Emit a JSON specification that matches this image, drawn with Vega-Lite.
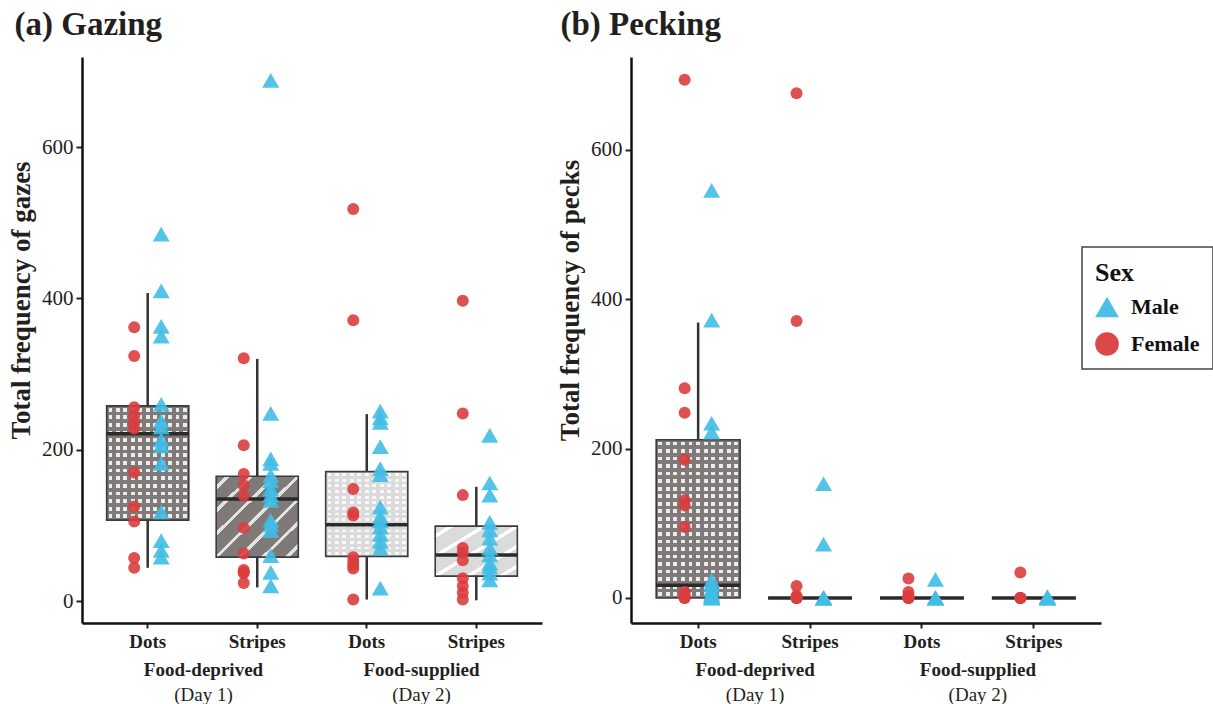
{
  "$schema": "https://vega.github.io/schema/vega-lite/v6.json",
  "padding": {"left": 7, "top": 9, "right": 0, "bottom": 0},
  "spacing": 14,
  "config": {
    "font": "Liberation Serif",
    "view": {"stroke": null},
    "axis": {"grid": false, "domainColor": "#111111", "domainWidth": 2.5, "tickColor": "#222222", "tickWidth": 2, "labelColor": "#231f20", "titleColor": "#231f20", "labelFont": "Liberation Serif", "titleFont": "Liberation Serif"},
    "axisY": {"labelFontSize": 21, "tickSize": 6, "labelPadding": 3, "titleFontSize": 27, "titleFontWeight": "bold", "titlePadding": 6, "tickCount": 4, "titleY": 243},
    "axisX": {"labelAngle": 0},
    "legend": {"padding": 13, "strokeColor": "#444444", "strokeWidth": 1.5, "titleFontSize": 26, "titleFontWeight": "bold", "labelFontSize": 22, "labelFontWeight": "bold", "symbolSize": 560, "rowPadding": 14, "titlePadding": 9, "labelOffset": 12, "titleColor": "#111111", "labelColor": "#111111", "symbolStrokeWidth": 0, "symbolOpacity": 0.95}
  },
  "datasets": {
    "boxes": [
      {"panel": "a", "grp": "FD Dots", "cond": "Food-deprived", "day": "(Day 1)", "lo": 44, "q1": 107, "med": 221, "q3": 258, "hi": 407},
      {"panel": "a", "grp": "FD Stripes", "cond": "Food-deprived", "day": "(Day 1)", "lo": 18, "q1": 58, "med": 135, "q3": 165, "hi": 320},
      {"panel": "a", "grp": "FS Dots", "cond": "Food-supplied", "day": "(Day 2)", "lo": 2, "q1": 59, "med": 101, "q3": 171, "hi": 247},
      {"panel": "a", "grp": "FS Stripes", "cond": "Food-supplied", "day": "(Day 2)", "lo": 1, "q1": 33, "med": 61, "q3": 99, "hi": 151},
      {"panel": "b", "grp": "FD Dots", "cond": "Food-deprived", "day": "(Day 1)", "lo": 0, "q1": 0, "med": 17, "q3": 212, "hi": 369},
      {"panel": "b", "grp": "FD Stripes", "cond": "Food-deprived", "day": "(Day 1)", "lo": 0, "q1": 0, "med": 0, "q3": 0, "hi": 0},
      {"panel": "b", "grp": "FS Dots", "cond": "Food-supplied", "day": "(Day 2)", "lo": 0, "q1": 0, "med": 0, "q3": 0, "hi": 0},
      {"panel": "b", "grp": "FS Stripes", "cond": "Food-supplied", "day": "(Day 2)", "lo": 0, "q1": 0, "med": 0, "q3": 0, "hi": 0}
    ],
    "pts": [
      {"panel":"a","grp":"FD Dots","sex":"Female","value":362},{"panel":"a","grp":"FD Dots","sex":"Female","value":324},{"panel":"a","grp":"FD Dots","sex":"Female","value":256},{"panel":"a","grp":"FD Dots","sex":"Female","value":245},{"panel":"a","grp":"FD Dots","sex":"Female","value":236},{"panel":"a","grp":"FD Dots","sex":"Female","value":228},{"panel":"a","grp":"FD Dots","sex":"Female","value":170},{"panel":"a","grp":"FD Dots","sex":"Female","value":125},{"panel":"a","grp":"FD Dots","sex":"Female","value":105},{"panel":"a","grp":"FD Dots","sex":"Female","value":57},{"panel":"a","grp":"FD Dots","sex":"Female","value":44},
      {"panel":"a","grp":"FD Dots","sex":"Male","value":485},{"panel":"a","grp":"FD Dots","sex":"Male","value":410},{"panel":"a","grp":"FD Dots","sex":"Male","value":363},{"panel":"a","grp":"FD Dots","sex":"Male","value":350},{"panel":"a","grp":"FD Dots","sex":"Male","value":260},{"panel":"a","grp":"FD Dots","sex":"Male","value":238},{"panel":"a","grp":"FD Dots","sex":"Male","value":230},{"panel":"a","grp":"FD Dots","sex":"Male","value":213},{"panel":"a","grp":"FD Dots","sex":"Male","value":205},{"panel":"a","grp":"FD Dots","sex":"Male","value":182},{"panel":"a","grp":"FD Dots","sex":"Male","value":118},{"panel":"a","grp":"FD Dots","sex":"Male","value":80},{"panel":"a","grp":"FD Dots","sex":"Male","value":67},{"panel":"a","grp":"FD Dots","sex":"Male","value":58},
      {"panel":"a","grp":"FD Stripes","sex":"Female","value":321},{"panel":"a","grp":"FD Stripes","sex":"Female","value":206},{"panel":"a","grp":"FD Stripes","sex":"Female","value":168},{"panel":"a","grp":"FD Stripes","sex":"Female","value":153},{"panel":"a","grp":"FD Stripes","sex":"Female","value":139},{"panel":"a","grp":"FD Stripes","sex":"Female","value":97},{"panel":"a","grp":"FD Stripes","sex":"Female","value":63},{"panel":"a","grp":"FD Stripes","sex":"Female","value":41},{"panel":"a","grp":"FD Stripes","sex":"Female","value":38},{"panel":"a","grp":"FD Stripes","sex":"Female","value":37},{"panel":"a","grp":"FD Stripes","sex":"Female","value":24},
      {"panel":"a","grp":"FD Stripes","sex":"Male","value":688},{"panel":"a","grp":"FD Stripes","sex":"Male","value":248},{"panel":"a","grp":"FD Stripes","sex":"Male","value":188},{"panel":"a","grp":"FD Stripes","sex":"Male","value":182},{"panel":"a","grp":"FD Stripes","sex":"Male","value":166},{"panel":"a","grp":"FD Stripes","sex":"Male","value":159},{"panel":"a","grp":"FD Stripes","sex":"Male","value":148},{"panel":"a","grp":"FD Stripes","sex":"Male","value":140},{"panel":"a","grp":"FD Stripes","sex":"Male","value":133},{"panel":"a","grp":"FD Stripes","sex":"Male","value":107},{"panel":"a","grp":"FD Stripes","sex":"Male","value":101},{"panel":"a","grp":"FD Stripes","sex":"Male","value":93},{"panel":"a","grp":"FD Stripes","sex":"Male","value":60},{"panel":"a","grp":"FD Stripes","sex":"Male","value":38},{"panel":"a","grp":"FD Stripes","sex":"Male","value":20},
      {"panel":"a","grp":"FS Dots","sex":"Female","value":518},{"panel":"a","grp":"FS Dots","sex":"Female","value":371},{"panel":"a","grp":"FS Dots","sex":"Female","value":148},{"panel":"a","grp":"FS Dots","sex":"Female","value":117},{"panel":"a","grp":"FS Dots","sex":"Female","value":113},{"panel":"a","grp":"FS Dots","sex":"Female","value":58},{"panel":"a","grp":"FS Dots","sex":"Female","value":52},{"panel":"a","grp":"FS Dots","sex":"Female","value":47},{"panel":"a","grp":"FS Dots","sex":"Female","value":43},{"panel":"a","grp":"FS Dots","sex":"Female","value":2},
      {"panel":"a","grp":"FS Dots","sex":"Male","value":251},{"panel":"a","grp":"FS Dots","sex":"Male","value":242},{"panel":"a","grp":"FS Dots","sex":"Male","value":236},{"panel":"a","grp":"FS Dots","sex":"Male","value":204},{"panel":"a","grp":"FS Dots","sex":"Male","value":175},{"panel":"a","grp":"FS Dots","sex":"Male","value":167},{"panel":"a","grp":"FS Dots","sex":"Male","value":124},{"panel":"a","grp":"FS Dots","sex":"Male","value":112},{"panel":"a","grp":"FS Dots","sex":"Male","value":106},{"panel":"a","grp":"FS Dots","sex":"Male","value":98},{"panel":"a","grp":"FS Dots","sex":"Male","value":88},{"panel":"a","grp":"FS Dots","sex":"Male","value":79},{"panel":"a","grp":"FS Dots","sex":"Male","value":70},{"panel":"a","grp":"FS Dots","sex":"Male","value":17},
      {"panel":"a","grp":"FS Stripes","sex":"Female","value":397},{"panel":"a","grp":"FS Stripes","sex":"Female","value":248},{"panel":"a","grp":"FS Stripes","sex":"Female","value":140},{"panel":"a","grp":"FS Stripes","sex":"Female","value":70},{"panel":"a","grp":"FS Stripes","sex":"Female","value":64},{"panel":"a","grp":"FS Stripes","sex":"Female","value":54},{"panel":"a","grp":"FS Stripes","sex":"Female","value":30},{"panel":"a","grp":"FS Stripes","sex":"Female","value":20},{"panel":"a","grp":"FS Stripes","sex":"Female","value":11},{"panel":"a","grp":"FS Stripes","sex":"Female","value":2},
      {"panel":"a","grp":"FS Stripes","sex":"Male","value":219},{"panel":"a","grp":"FS Stripes","sex":"Male","value":156},{"panel":"a","grp":"FS Stripes","sex":"Male","value":140},{"panel":"a","grp":"FS Stripes","sex":"Male","value":104},{"panel":"a","grp":"FS Stripes","sex":"Male","value":94},{"panel":"a","grp":"FS Stripes","sex":"Male","value":83},{"panel":"a","grp":"FS Stripes","sex":"Male","value":70},{"panel":"a","grp":"FS Stripes","sex":"Male","value":61},{"panel":"a","grp":"FS Stripes","sex":"Male","value":50},{"panel":"a","grp":"FS Stripes","sex":"Male","value":45},{"panel":"a","grp":"FS Stripes","sex":"Male","value":37},{"panel":"a","grp":"FS Stripes","sex":"Male","value":28},
      {"panel":"b","grp":"FD Dots","sex":"Female","value":694},{"panel":"b","grp":"FD Dots","sex":"Female","value":281},{"panel":"b","grp":"FD Dots","sex":"Female","value":248},{"panel":"b","grp":"FD Dots","sex":"Female","value":185},{"panel":"b","grp":"FD Dots","sex":"Female","value":131},{"panel":"b","grp":"FD Dots","sex":"Female","value":124},{"panel":"b","grp":"FD Dots","sex":"Female","value":95},{"panel":"b","grp":"FD Dots","sex":"Female","value":8},{"panel":"b","grp":"FD Dots","sex":"Female","value":4},{"panel":"b","grp":"FD Dots","sex":"Female","value":0},{"panel":"b","grp":"FD Dots","sex":"Female","value":0},
      {"panel":"b","grp":"FD Dots","sex":"Male","value":546},{"panel":"b","grp":"FD Dots","sex":"Male","value":372},{"panel":"b","grp":"FD Dots","sex":"Male","value":234},{"panel":"b","grp":"FD Dots","sex":"Male","value":222},{"panel":"b","grp":"FD Dots","sex":"Male","value":24},{"panel":"b","grp":"FD Dots","sex":"Male","value":18},{"panel":"b","grp":"FD Dots","sex":"Male","value":12},{"panel":"b","grp":"FD Dots","sex":"Male","value":6},{"panel":"b","grp":"FD Dots","sex":"Male","value":3},{"panel":"b","grp":"FD Dots","sex":"Male","value":2},{"panel":"b","grp":"FD Dots","sex":"Male","value":0},{"panel":"b","grp":"FD Dots","sex":"Male","value":0},{"panel":"b","grp":"FD Dots","sex":"Male","value":0},
      {"panel":"b","grp":"FD Stripes","sex":"Female","value":676},{"panel":"b","grp":"FD Stripes","sex":"Female","value":371},{"panel":"b","grp":"FD Stripes","sex":"Female","value":16},{"panel":"b","grp":"FD Stripes","sex":"Female","value":3},{"panel":"b","grp":"FD Stripes","sex":"Female","value":0},{"panel":"b","grp":"FD Stripes","sex":"Female","value":0},{"panel":"b","grp":"FD Stripes","sex":"Female","value":0},{"panel":"b","grp":"FD Stripes","sex":"Female","value":0},
      {"panel":"b","grp":"FD Stripes","sex":"Male","value":153},{"panel":"b","grp":"FD Stripes","sex":"Male","value":72},{"panel":"b","grp":"FD Stripes","sex":"Male","value":0},{"panel":"b","grp":"FD Stripes","sex":"Male","value":0},{"panel":"b","grp":"FD Stripes","sex":"Male","value":0},{"panel":"b","grp":"FD Stripes","sex":"Male","value":0},{"panel":"b","grp":"FD Stripes","sex":"Male","value":0},{"panel":"b","grp":"FD Stripes","sex":"Male","value":0},
      {"panel":"b","grp":"FS Dots","sex":"Female","value":26},{"panel":"b","grp":"FS Dots","sex":"Female","value":8},{"panel":"b","grp":"FS Dots","sex":"Female","value":3},{"panel":"b","grp":"FS Dots","sex":"Female","value":0},{"panel":"b","grp":"FS Dots","sex":"Female","value":0},{"panel":"b","grp":"FS Dots","sex":"Female","value":0},
      {"panel":"b","grp":"FS Dots","sex":"Male","value":25},{"panel":"b","grp":"FS Dots","sex":"Male","value":0},{"panel":"b","grp":"FS Dots","sex":"Male","value":0},{"panel":"b","grp":"FS Dots","sex":"Male","value":0},{"panel":"b","grp":"FS Dots","sex":"Male","value":0},{"panel":"b","grp":"FS Dots","sex":"Male","value":0},
      {"panel":"b","grp":"FS Stripes","sex":"Female","value":34},{"panel":"b","grp":"FS Stripes","sex":"Female","value":0},{"panel":"b","grp":"FS Stripes","sex":"Female","value":0},{"panel":"b","grp":"FS Stripes","sex":"Female","value":0},{"panel":"b","grp":"FS Stripes","sex":"Female","value":0},
      {"panel":"b","grp":"FS Stripes","sex":"Male","value":2},{"panel":"b","grp":"FS Stripes","sex":"Male","value":0},{"panel":"b","grp":"FS Stripes","sex":"Male","value":0},{"panel":"b","grp":"FS Stripes","sex":"Male","value":0},{"panel":"b","grp":"FS Stripes","sex":"Male","value":0},{"panel":"b","grp":"FS Stripes","sex":"Male","value":0}
    ]
  },
  "hconcat": [
    {
      "title": {"text": "(a) Gazing", "anchor": "start", "frame": "bounds", "fontSize": 33, "fontWeight": "bold", "font": "Liberation Serif", "color": "#231f20", "offset": 15, "dx": 7},
      "width": 460,
      "height": 566,
      "resolve": {"scale": {"x": "independent"}},
      "layer": [
        {
          "encoding": {
            "x": {"field": "grp", "type": "nominal", "scale": {"type": "band", "domain": ["FD Dots", "FD Stripes", "FS Dots", "FS Stripes"], "paddingInner": 0.25, "paddingOuter": 0.225},
              "axis": {"orient": "bottom", "title": null, "labelExpr": "split(datum.label, ' ')[1]", "labelFontSize": 19, "labelFontWeight": "bold", "tickSize": 5, "labelPadding": 4}}
          },
          "layer": [
            {
              "data": {"name": "boxes"},
              "transform": [{"filter": "datum.panel == 'a'"}],
              "mark": {"type": "rule", "stroke": "#333333", "strokeWidth": 2.5},
              "encoding": {
                "y": {"field": "lo", "type": "quantitative", "title": "Total frequency of gazes", "scale": {"domain": [-29, 719], "nice": false, "zero": false}},
                "y2": {"field": "hi"}
              }
            },
            {
              "data": {"name": "boxes"},
              "transform": [{"filter": "datum.panel == 'a' && datum.grp == 'FD Dots'"}],
              "mark": {"type": "bar", "fill": {"gradient": "linear", "x1": 0, "y1": 0, "x2": 1, "y2": 0, "stops": [
                {"offset": 0, "color": "#7f7978"}, {"offset": 0.0227, "color": "#7f7978"}, {"offset": 0.0227, "color": "#ebebeb"}, {"offset": 0.0682, "color": "#ebebeb"}, {"offset": 0.0682, "color": "#7f7978"},
                {"offset": 0.1136, "color": "#7f7978"}, {"offset": 0.1136, "color": "#ebebeb"}, {"offset": 0.1591, "color": "#ebebeb"}, {"offset": 0.1591, "color": "#7f7978"},
                {"offset": 0.2045, "color": "#7f7978"}, {"offset": 0.2045, "color": "#ebebeb"}, {"offset": 0.25, "color": "#ebebeb"}, {"offset": 0.25, "color": "#7f7978"},
                {"offset": 0.2955, "color": "#7f7978"}, {"offset": 0.2955, "color": "#ebebeb"}, {"offset": 0.3409, "color": "#ebebeb"}, {"offset": 0.3409, "color": "#7f7978"},
                {"offset": 0.3864, "color": "#7f7978"}, {"offset": 0.3864, "color": "#ebebeb"}, {"offset": 0.4318, "color": "#ebebeb"}, {"offset": 0.4318, "color": "#7f7978"},
                {"offset": 0.4773, "color": "#7f7978"}, {"offset": 0.4773, "color": "#ebebeb"}, {"offset": 0.5227, "color": "#ebebeb"}, {"offset": 0.5227, "color": "#7f7978"},
                {"offset": 0.5682, "color": "#7f7978"}, {"offset": 0.5682, "color": "#ebebeb"}, {"offset": 0.6136, "color": "#ebebeb"}, {"offset": 0.6136, "color": "#7f7978"},
                {"offset": 0.6591, "color": "#7f7978"}, {"offset": 0.6591, "color": "#ebebeb"}, {"offset": 0.7045, "color": "#ebebeb"}, {"offset": 0.7045, "color": "#7f7978"},
                {"offset": 0.75, "color": "#7f7978"}, {"offset": 0.75, "color": "#ebebeb"}, {"offset": 0.7955, "color": "#ebebeb"}, {"offset": 0.7955, "color": "#7f7978"},
                {"offset": 0.8409, "color": "#7f7978"}, {"offset": 0.8409, "color": "#ebebeb"}, {"offset": 0.8864, "color": "#ebebeb"}, {"offset": 0.8864, "color": "#7f7978"},
                {"offset": 0.9318, "color": "#7f7978"}, {"offset": 0.9318, "color": "#ebebeb"}, {"offset": 0.9773, "color": "#ebebeb"}, {"offset": 0.9773, "color": "#7f7978"},
                {"offset": 1, "color": "#7f7978"}]}},
              "encoding": {
                "y": {"field": "q1", "type": "quantitative", "title": "Total frequency of gazes", "scale": {"domain": [-29, 719], "nice": false, "zero": false}},
                "y2": {"field": "q3"}
              }
            },
            {
              "data": {"name": "boxes"},
              "transform": [{"filter": "datum.panel == 'a' && datum.grp == 'FD Dots'"}],
              "mark": {"type": "bar", "fill": {"gradient": "linear", "x1": 0, "y1": 0, "x2": 0, "y2": 1, "stops": [
                {"offset": 0, "color": "#7f7978"}, {"offset": 0.0167, "color": "#7f7978"}, {"offset": 0.0167, "color": "rgba(127,121,120,0)"}, {"offset": 0.05, "color": "rgba(127,121,120,0)"}, {"offset": 0.05, "color": "#7f7978"},
                {"offset": 0.0833, "color": "#7f7978"}, {"offset": 0.0833, "color": "rgba(127,121,120,0)"}, {"offset": 0.1167, "color": "rgba(127,121,120,0)"}, {"offset": 0.1167, "color": "#7f7978"},
                {"offset": 0.15, "color": "#7f7978"}, {"offset": 0.15, "color": "rgba(127,121,120,0)"}, {"offset": 0.1833, "color": "rgba(127,121,120,0)"}, {"offset": 0.1833, "color": "#7f7978"},
                {"offset": 0.2167, "color": "#7f7978"}, {"offset": 0.2167, "color": "rgba(127,121,120,0)"}, {"offset": 0.25, "color": "rgba(127,121,120,0)"}, {"offset": 0.25, "color": "#7f7978"},
                {"offset": 0.2833, "color": "#7f7978"}, {"offset": 0.2833, "color": "rgba(127,121,120,0)"}, {"offset": 0.3167, "color": "rgba(127,121,120,0)"}, {"offset": 0.3167, "color": "#7f7978"},
                {"offset": 0.35, "color": "#7f7978"}, {"offset": 0.35, "color": "rgba(127,121,120,0)"}, {"offset": 0.3833, "color": "rgba(127,121,120,0)"}, {"offset": 0.3833, "color": "#7f7978"},
                {"offset": 0.4167, "color": "#7f7978"}, {"offset": 0.4167, "color": "rgba(127,121,120,0)"}, {"offset": 0.45, "color": "rgba(127,121,120,0)"}, {"offset": 0.45, "color": "#7f7978"},
                {"offset": 0.4833, "color": "#7f7978"}, {"offset": 0.4833, "color": "rgba(127,121,120,0)"}, {"offset": 0.5167, "color": "rgba(127,121,120,0)"}, {"offset": 0.5167, "color": "#7f7978"},
                {"offset": 0.55, "color": "#7f7978"}, {"offset": 0.55, "color": "rgba(127,121,120,0)"}, {"offset": 0.5833, "color": "rgba(127,121,120,0)"}, {"offset": 0.5833, "color": "#7f7978"},
                {"offset": 0.6167, "color": "#7f7978"}, {"offset": 0.6167, "color": "rgba(127,121,120,0)"}, {"offset": 0.65, "color": "rgba(127,121,120,0)"}, {"offset": 0.65, "color": "#7f7978"},
                {"offset": 0.6833, "color": "#7f7978"}, {"offset": 0.6833, "color": "rgba(127,121,120,0)"}, {"offset": 0.7167, "color": "rgba(127,121,120,0)"}, {"offset": 0.7167, "color": "#7f7978"},
                {"offset": 0.75, "color": "#7f7978"}, {"offset": 0.75, "color": "rgba(127,121,120,0)"}, {"offset": 0.7833, "color": "rgba(127,121,120,0)"}, {"offset": 0.7833, "color": "#7f7978"},
                {"offset": 0.8167, "color": "#7f7978"}, {"offset": 0.8167, "color": "rgba(127,121,120,0)"}, {"offset": 0.85, "color": "rgba(127,121,120,0)"}, {"offset": 0.85, "color": "#7f7978"},
                {"offset": 0.8833, "color": "#7f7978"}, {"offset": 0.8833, "color": "rgba(127,121,120,0)"}, {"offset": 0.9167, "color": "rgba(127,121,120,0)"}, {"offset": 0.9167, "color": "#7f7978"},
                {"offset": 0.95, "color": "#7f7978"}, {"offset": 0.95, "color": "rgba(127,121,120,0)"}, {"offset": 0.9833, "color": "rgba(127,121,120,0)"}, {"offset": 0.9833, "color": "#7f7978"},
                {"offset": 1, "color": "#7f7978"}]}},
              "encoding": {
                "y": {"field": "q1", "type": "quantitative", "title": "Total frequency of gazes", "scale": {"domain": [-29, 719], "nice": false, "zero": false}},
                "y2": {"field": "q3"}
              }
            },
            {
              "data": {"name": "boxes"},
              "transform": [{"filter": "datum.panel == 'a' && datum.grp == 'FS Dots'"}],
              "mark": {"type": "bar", "fill": {"gradient": "linear", "x1": 0, "y1": 0, "x2": 1, "y2": 0, "stops": [
                {"offset": 0, "color": "#dbdbdb"}, {"offset": 0.0227, "color": "#dbdbdb"}, {"offset": 0.0227, "color": "#f8f8f8"}, {"offset": 0.0682, "color": "#f8f8f8"}, {"offset": 0.0682, "color": "#dbdbdb"},
                {"offset": 0.1136, "color": "#dbdbdb"}, {"offset": 0.1136, "color": "#f8f8f8"}, {"offset": 0.1591, "color": "#f8f8f8"}, {"offset": 0.1591, "color": "#dbdbdb"},
                {"offset": 0.2045, "color": "#dbdbdb"}, {"offset": 0.2045, "color": "#f8f8f8"}, {"offset": 0.25, "color": "#f8f8f8"}, {"offset": 0.25, "color": "#dbdbdb"},
                {"offset": 0.2955, "color": "#dbdbdb"}, {"offset": 0.2955, "color": "#f8f8f8"}, {"offset": 0.3409, "color": "#f8f8f8"}, {"offset": 0.3409, "color": "#dbdbdb"},
                {"offset": 0.3864, "color": "#dbdbdb"}, {"offset": 0.3864, "color": "#f8f8f8"}, {"offset": 0.4318, "color": "#f8f8f8"}, {"offset": 0.4318, "color": "#dbdbdb"},
                {"offset": 0.4773, "color": "#dbdbdb"}, {"offset": 0.4773, "color": "#f8f8f8"}, {"offset": 0.5227, "color": "#f8f8f8"}, {"offset": 0.5227, "color": "#dbdbdb"},
                {"offset": 0.5682, "color": "#dbdbdb"}, {"offset": 0.5682, "color": "#f8f8f8"}, {"offset": 0.6136, "color": "#f8f8f8"}, {"offset": 0.6136, "color": "#dbdbdb"},
                {"offset": 0.6591, "color": "#dbdbdb"}, {"offset": 0.6591, "color": "#f8f8f8"}, {"offset": 0.7045, "color": "#f8f8f8"}, {"offset": 0.7045, "color": "#dbdbdb"},
                {"offset": 0.75, "color": "#dbdbdb"}, {"offset": 0.75, "color": "#f8f8f8"}, {"offset": 0.7955, "color": "#f8f8f8"}, {"offset": 0.7955, "color": "#dbdbdb"},
                {"offset": 0.8409, "color": "#dbdbdb"}, {"offset": 0.8409, "color": "#f8f8f8"}, {"offset": 0.8864, "color": "#f8f8f8"}, {"offset": 0.8864, "color": "#dbdbdb"},
                {"offset": 0.9318, "color": "#dbdbdb"}, {"offset": 0.9318, "color": "#f8f8f8"}, {"offset": 0.9773, "color": "#f8f8f8"}, {"offset": 0.9773, "color": "#dbdbdb"},
                {"offset": 1, "color": "#dbdbdb"}]}},
              "encoding": {
                "y": {"field": "q1", "type": "quantitative", "title": "Total frequency of gazes", "scale": {"domain": [-29, 719], "nice": false, "zero": false}},
                "y2": {"field": "q3"}
              }
            },
            {
              "data": {"name": "boxes"},
              "transform": [{"filter": "datum.panel == 'a' && datum.grp == 'FS Dots'"}],
              "mark": {"type": "bar", "fill": {"gradient": "linear", "x1": 0, "y1": 0, "x2": 0, "y2": 1, "stops": [
                {"offset": 0, "color": "#dbdbdb"}, {"offset": 0.0167, "color": "#dbdbdb"}, {"offset": 0.0167, "color": "rgba(219,219,219,0)"}, {"offset": 0.05, "color": "rgba(219,219,219,0)"}, {"offset": 0.05, "color": "#dbdbdb"},
                {"offset": 0.0833, "color": "#dbdbdb"}, {"offset": 0.0833, "color": "rgba(219,219,219,0)"}, {"offset": 0.1167, "color": "rgba(219,219,219,0)"}, {"offset": 0.1167, "color": "#dbdbdb"},
                {"offset": 0.15, "color": "#dbdbdb"}, {"offset": 0.15, "color": "rgba(219,219,219,0)"}, {"offset": 0.1833, "color": "rgba(219,219,219,0)"}, {"offset": 0.1833, "color": "#dbdbdb"},
                {"offset": 0.2167, "color": "#dbdbdb"}, {"offset": 0.2167, "color": "rgba(219,219,219,0)"}, {"offset": 0.25, "color": "rgba(219,219,219,0)"}, {"offset": 0.25, "color": "#dbdbdb"},
                {"offset": 0.2833, "color": "#dbdbdb"}, {"offset": 0.2833, "color": "rgba(219,219,219,0)"}, {"offset": 0.3167, "color": "rgba(219,219,219,0)"}, {"offset": 0.3167, "color": "#dbdbdb"},
                {"offset": 0.35, "color": "#dbdbdb"}, {"offset": 0.35, "color": "rgba(219,219,219,0)"}, {"offset": 0.3833, "color": "rgba(219,219,219,0)"}, {"offset": 0.3833, "color": "#dbdbdb"},
                {"offset": 0.4167, "color": "#dbdbdb"}, {"offset": 0.4167, "color": "rgba(219,219,219,0)"}, {"offset": 0.45, "color": "rgba(219,219,219,0)"}, {"offset": 0.45, "color": "#dbdbdb"},
                {"offset": 0.4833, "color": "#dbdbdb"}, {"offset": 0.4833, "color": "rgba(219,219,219,0)"}, {"offset": 0.5167, "color": "rgba(219,219,219,0)"}, {"offset": 0.5167, "color": "#dbdbdb"},
                {"offset": 0.55, "color": "#dbdbdb"}, {"offset": 0.55, "color": "rgba(219,219,219,0)"}, {"offset": 0.5833, "color": "rgba(219,219,219,0)"}, {"offset": 0.5833, "color": "#dbdbdb"},
                {"offset": 0.6167, "color": "#dbdbdb"}, {"offset": 0.6167, "color": "rgba(219,219,219,0)"}, {"offset": 0.65, "color": "rgba(219,219,219,0)"}, {"offset": 0.65, "color": "#dbdbdb"},
                {"offset": 0.6833, "color": "#dbdbdb"}, {"offset": 0.6833, "color": "rgba(219,219,219,0)"}, {"offset": 0.7167, "color": "rgba(219,219,219,0)"}, {"offset": 0.7167, "color": "#dbdbdb"},
                {"offset": 0.75, "color": "#dbdbdb"}, {"offset": 0.75, "color": "rgba(219,219,219,0)"}, {"offset": 0.7833, "color": "rgba(219,219,219,0)"}, {"offset": 0.7833, "color": "#dbdbdb"},
                {"offset": 0.8167, "color": "#dbdbdb"}, {"offset": 0.8167, "color": "rgba(219,219,219,0)"}, {"offset": 0.85, "color": "rgba(219,219,219,0)"}, {"offset": 0.85, "color": "#dbdbdb"},
                {"offset": 0.8833, "color": "#dbdbdb"}, {"offset": 0.8833, "color": "rgba(219,219,219,0)"}, {"offset": 0.9167, "color": "rgba(219,219,219,0)"}, {"offset": 0.9167, "color": "#dbdbdb"},
                {"offset": 0.95, "color": "#dbdbdb"}, {"offset": 0.95, "color": "rgba(219,219,219,0)"}, {"offset": 0.9833, "color": "rgba(219,219,219,0)"}, {"offset": 0.9833, "color": "#dbdbdb"},
                {"offset": 1, "color": "#dbdbdb"}]}},
              "encoding": {
                "y": {"field": "q1", "type": "quantitative", "title": "Total frequency of gazes", "scale": {"domain": [-29, 719], "nice": false, "zero": false}},
                "y2": {"field": "q3"}
              }
            },
            {
              "data": {"name": "boxes"},
              "transform": [{"filter": "datum.panel == 'a' && datum.grp == 'FD Stripes'"}],
              "mark": {"type": "bar", "fill": {"gradient": "linear", "x1": 0, "y1": 0, "x2": 1, "y2": 1, "stops": [
                {"offset": 0, "color": "#7f7978"}, {"offset": 0.0571, "color": "#7f7978"}, {"offset": 0.0571, "color": "#e2e2e2"}, {"offset": 0.0857, "color": "#e2e2e2"}, {"offset": 0.0857, "color": "#7f7978"},
                {"offset": 0.2, "color": "#7f7978"}, {"offset": 0.2, "color": "#e2e2e2"}, {"offset": 0.2286, "color": "#e2e2e2"}, {"offset": 0.2286, "color": "#7f7978"},
                {"offset": 0.3429, "color": "#7f7978"}, {"offset": 0.3429, "color": "#e2e2e2"}, {"offset": 0.3714, "color": "#e2e2e2"}, {"offset": 0.3714, "color": "#7f7978"},
                {"offset": 0.4857, "color": "#7f7978"}, {"offset": 0.4857, "color": "#e2e2e2"}, {"offset": 0.5143, "color": "#e2e2e2"}, {"offset": 0.5143, "color": "#7f7978"},
                {"offset": 0.6286, "color": "#7f7978"}, {"offset": 0.6286, "color": "#e2e2e2"}, {"offset": 0.6571, "color": "#e2e2e2"}, {"offset": 0.6571, "color": "#7f7978"},
                {"offset": 0.7714, "color": "#7f7978"}, {"offset": 0.7714, "color": "#e2e2e2"}, {"offset": 0.8, "color": "#e2e2e2"}, {"offset": 0.8, "color": "#7f7978"},
                {"offset": 0.9143, "color": "#7f7978"}, {"offset": 0.9143, "color": "#e2e2e2"}, {"offset": 0.9429, "color": "#e2e2e2"}, {"offset": 0.9429, "color": "#7f7978"},
                {"offset": 1, "color": "#7f7978"}]}},
              "encoding": {
                "y": {"field": "q1", "type": "quantitative", "title": "Total frequency of gazes", "scale": {"domain": [-29, 719], "nice": false, "zero": false}},
                "y2": {"field": "q3"}
              }
            },
            {
              "data": {"name": "boxes"},
              "transform": [{"filter": "datum.panel == 'a' && datum.grp == 'FS Stripes'"}],
              "mark": {"type": "bar", "fill": {"gradient": "linear", "x1": 0, "y1": 0, "x2": 1, "y2": 1, "stops": [
                {"offset": 0, "color": "#dbdbdb"}, {"offset": 0.08, "color": "#dbdbdb"}, {"offset": 0.08, "color": "#ffffff"}, {"offset": 0.12, "color": "#ffffff"}, {"offset": 0.12, "color": "#dbdbdb"},
                {"offset": 0.28, "color": "#dbdbdb"}, {"offset": 0.28, "color": "#ffffff"}, {"offset": 0.32, "color": "#ffffff"}, {"offset": 0.32, "color": "#dbdbdb"},
                {"offset": 0.48, "color": "#dbdbdb"}, {"offset": 0.48, "color": "#ffffff"}, {"offset": 0.52, "color": "#ffffff"}, {"offset": 0.52, "color": "#dbdbdb"},
                {"offset": 0.68, "color": "#dbdbdb"}, {"offset": 0.68, "color": "#ffffff"}, {"offset": 0.72, "color": "#ffffff"}, {"offset": 0.72, "color": "#dbdbdb"},
                {"offset": 0.88, "color": "#dbdbdb"}, {"offset": 0.88, "color": "#ffffff"}, {"offset": 0.92, "color": "#ffffff"}, {"offset": 0.92, "color": "#dbdbdb"},
                {"offset": 1, "color": "#dbdbdb"}]}},
              "encoding": {
                "y": {"field": "q1", "type": "quantitative", "title": "Total frequency of gazes", "scale": {"domain": [-29, 719], "nice": false, "zero": false}},
                "y2": {"field": "q3"}
              }
            },
            {
              "data": {"name": "boxes"},
              "transform": [{"filter": "datum.panel == 'a'"}],
              "mark": {"type": "bar", "fillOpacity": 0, "stroke": "#3b3b3b", "strokeWidth": 1.6},
              "encoding": {
                "y": {"field": "q1", "type": "quantitative", "title": "Total frequency of gazes", "scale": {"domain": [-29, 719], "nice": false, "zero": false}},
                "y2": {"field": "q3"}
              }
            },
            {
              "data": {"name": "boxes"},
              "transform": [{"filter": "datum.panel == 'a'"}],
              "mark": {"type": "bar", "fillOpacity": 0, "stroke": "#2a2a2a", "strokeWidth": 3.5},
              "encoding": {
                "y": {"field": "med", "type": "quantitative", "title": "Total frequency of gazes", "scale": {"domain": [-29, 719], "nice": false, "zero": false}},
                "y2": {"field": "med"}
              }
            },
            {
              "data": {"name": "pts"},
              "transform": [{"filter": "datum.panel == 'a' && datum.sex == 'Female'"}],
              "mark": {"type": "point", "filled": true, "opacity": 0.9, "strokeWidth": 0, "xOffset": -13.5, "size": 144},
              "encoding": {
                "y": {"field": "value", "type": "quantitative", "title": "Total frequency of gazes", "scale": {"domain": [-29, 719], "nice": false, "zero": false}},
                "color": {"field": "sex", "type": "nominal", "scale": {"domain": ["Male", "Female"], "range": ["#41bde6", "#da3d3e"]}, "legend": {"title": "Sex", "orient": "none", "legendX": 1000, "legendY": 190}},
                "shape": {"field": "sex", "type": "nominal", "scale": {"domain": ["Male", "Female"], "range": ["triangle-up", "circle"]}, "legend": {"title": "Sex", "orient": "none", "legendX": 1000, "legendY": 190}}
              }
            },
            {
              "data": {"name": "pts"},
              "transform": [{"filter": "datum.panel == 'a' && datum.sex == 'Male'"}],
              "mark": {"type": "point", "filled": true, "opacity": 0.9, "strokeWidth": 0, "xOffset": 13.5, "size": 289},
              "encoding": {
                "y": {"field": "value", "type": "quantitative", "title": "Total frequency of gazes", "scale": {"domain": [-29, 719], "nice": false, "zero": false}},
                "color": {"field": "sex", "type": "nominal", "scale": {"domain": ["Male", "Female"], "range": ["#41bde6", "#da3d3e"]}, "legend": {"title": "Sex", "orient": "none", "legendX": 1000, "legendY": 190}},
                "shape": {"field": "sex", "type": "nominal", "scale": {"domain": ["Male", "Female"], "range": ["triangle-up", "circle"]}, "legend": {"title": "Sex", "orient": "none", "legendX": 1000, "legendY": 190}}
              }
            }
          ]
        },
        {
          "data": {"name": "boxes"},
          "transform": [{"filter": "datum.panel == 'a'"}],
          "mark": {"type": "point", "opacity": 0},
          "encoding": {
            "x": {"field": "cond", "type": "nominal", "scale": {"type": "point", "padding": 0.555, "domain": ["Food-deprived", "Food-supplied"]},
              "axis": {"orient": "bottom", "title": null, "domain": false, "ticks": false, "tickSize": 0, "labelFontSize": 19, "labelFontWeight": "bold", "labelPadding": 37}}
          }
        },
        {
          "data": {"name": "boxes"},
          "transform": [{"filter": "datum.panel == 'a'"}],
          "mark": {"type": "point", "opacity": 0},
          "encoding": {
            "x": {"field": "day", "type": "nominal", "scale": {"type": "point", "padding": 0.555, "domain": ["(Day 1)", "(Day 2)"]},
              "axis": {"orient": "bottom", "title": null, "domain": false, "ticks": false, "tickSize": 0, "labelFontSize": 19, "labelFontWeight": "normal", "labelPadding": 62}}
          }
        }
      ]
    },
    {
      "title": {"text": "(b) Pecking", "anchor": "start", "frame": "bounds", "fontSize": 33, "fontWeight": "bold", "font": "Liberation Serif", "color": "#231f20", "offset": 15, "dx": 4},
      "width": 470,
      "height": 566,
      "resolve": {"scale": {"x": "independent"}},
      "layer": [
        {
          "encoding": {
            "x": {"field": "grp", "type": "nominal", "scale": {"type": "band", "domain": ["FD Dots", "FD Stripes", "FS Dots", "FS Stripes"], "paddingInner": 0.25, "paddingOuter": 0.225},
              "axis": {"orient": "bottom", "title": null, "labelExpr": "split(datum.label, ' ')[1]", "labelFontSize": 19, "labelFontWeight": "bold", "tickSize": 5, "labelPadding": 4}}
          },
          "layer": [
            {
              "data": {"name": "boxes"},
              "transform": [{"filter": "datum.panel == 'b'"}],
              "mark": {"type": "rule", "stroke": "#333333", "strokeWidth": 2.5},
              "encoding": {
                "y": {"field": "lo", "type": "quantitative", "title": "Total frequency of pecks", "scale": {"domain": [-33.5, 724.5], "nice": false, "zero": false}},
                "y2": {"field": "hi"}
              }
            },
            {
              "data": {"name": "boxes"},
              "transform": [{"filter": "datum.panel == 'b' && datum.grp == 'FD Dots'"}],
              "mark": {"type": "bar", "fill": {"gradient": "linear", "x1": 0, "y1": 0, "x2": 1, "y2": 0, "stops": [
                {"offset": 0, "color": "#7f7978"}, {"offset": 0.0227, "color": "#7f7978"}, {"offset": 0.0227, "color": "#ebebeb"}, {"offset": 0.0682, "color": "#ebebeb"}, {"offset": 0.0682, "color": "#7f7978"},
                {"offset": 0.1136, "color": "#7f7978"}, {"offset": 0.1136, "color": "#ebebeb"}, {"offset": 0.1591, "color": "#ebebeb"}, {"offset": 0.1591, "color": "#7f7978"},
                {"offset": 0.2045, "color": "#7f7978"}, {"offset": 0.2045, "color": "#ebebeb"}, {"offset": 0.25, "color": "#ebebeb"}, {"offset": 0.25, "color": "#7f7978"},
                {"offset": 0.2955, "color": "#7f7978"}, {"offset": 0.2955, "color": "#ebebeb"}, {"offset": 0.3409, "color": "#ebebeb"}, {"offset": 0.3409, "color": "#7f7978"},
                {"offset": 0.3864, "color": "#7f7978"}, {"offset": 0.3864, "color": "#ebebeb"}, {"offset": 0.4318, "color": "#ebebeb"}, {"offset": 0.4318, "color": "#7f7978"},
                {"offset": 0.4773, "color": "#7f7978"}, {"offset": 0.4773, "color": "#ebebeb"}, {"offset": 0.5227, "color": "#ebebeb"}, {"offset": 0.5227, "color": "#7f7978"},
                {"offset": 0.5682, "color": "#7f7978"}, {"offset": 0.5682, "color": "#ebebeb"}, {"offset": 0.6136, "color": "#ebebeb"}, {"offset": 0.6136, "color": "#7f7978"},
                {"offset": 0.6591, "color": "#7f7978"}, {"offset": 0.6591, "color": "#ebebeb"}, {"offset": 0.7045, "color": "#ebebeb"}, {"offset": 0.7045, "color": "#7f7978"},
                {"offset": 0.75, "color": "#7f7978"}, {"offset": 0.75, "color": "#ebebeb"}, {"offset": 0.7955, "color": "#ebebeb"}, {"offset": 0.7955, "color": "#7f7978"},
                {"offset": 0.8409, "color": "#7f7978"}, {"offset": 0.8409, "color": "#ebebeb"}, {"offset": 0.8864, "color": "#ebebeb"}, {"offset": 0.8864, "color": "#7f7978"},
                {"offset": 0.9318, "color": "#7f7978"}, {"offset": 0.9318, "color": "#ebebeb"}, {"offset": 0.9773, "color": "#ebebeb"}, {"offset": 0.9773, "color": "#7f7978"},
                {"offset": 1, "color": "#7f7978"}]}},
              "encoding": {
                "y": {"field": "q1", "type": "quantitative", "title": "Total frequency of pecks", "scale": {"domain": [-33.5, 724.5], "nice": false, "zero": false}},
                "y2": {"field": "q3"}
              }
            },
            {
              "data": {"name": "boxes"},
              "transform": [{"filter": "datum.panel == 'b' && datum.grp == 'FD Dots'"}],
              "mark": {"type": "bar", "fill": {"gradient": "linear", "x1": 0, "y1": 0, "x2": 0, "y2": 1, "stops": [
                {"offset": 0, "color": "#7f7978"}, {"offset": 0.0119, "color": "#7f7978"}, {"offset": 0.0119, "color": "rgba(127,121,120,0)"}, {"offset": 0.0357, "color": "rgba(127,121,120,0)"}, {"offset": 0.0357, "color": "#7f7978"},
                {"offset": 0.0595, "color": "#7f7978"}, {"offset": 0.0595, "color": "rgba(127,121,120,0)"}, {"offset": 0.0833, "color": "rgba(127,121,120,0)"}, {"offset": 0.0833, "color": "#7f7978"},
                {"offset": 0.1071, "color": "#7f7978"}, {"offset": 0.1071, "color": "rgba(127,121,120,0)"}, {"offset": 0.131, "color": "rgba(127,121,120,0)"}, {"offset": 0.131, "color": "#7f7978"},
                {"offset": 0.1548, "color": "#7f7978"}, {"offset": 0.1548, "color": "rgba(127,121,120,0)"}, {"offset": 0.1786, "color": "rgba(127,121,120,0)"}, {"offset": 0.1786, "color": "#7f7978"},
                {"offset": 0.2024, "color": "#7f7978"}, {"offset": 0.2024, "color": "rgba(127,121,120,0)"}, {"offset": 0.2262, "color": "rgba(127,121,120,0)"}, {"offset": 0.2262, "color": "#7f7978"},
                {"offset": 0.25, "color": "#7f7978"}, {"offset": 0.25, "color": "rgba(127,121,120,0)"}, {"offset": 0.2738, "color": "rgba(127,121,120,0)"}, {"offset": 0.2738, "color": "#7f7978"},
                {"offset": 0.2976, "color": "#7f7978"}, {"offset": 0.2976, "color": "rgba(127,121,120,0)"}, {"offset": 0.3214, "color": "rgba(127,121,120,0)"}, {"offset": 0.3214, "color": "#7f7978"},
                {"offset": 0.3452, "color": "#7f7978"}, {"offset": 0.3452, "color": "rgba(127,121,120,0)"}, {"offset": 0.369, "color": "rgba(127,121,120,0)"}, {"offset": 0.369, "color": "#7f7978"},
                {"offset": 0.3929, "color": "#7f7978"}, {"offset": 0.3929, "color": "rgba(127,121,120,0)"}, {"offset": 0.4167, "color": "rgba(127,121,120,0)"}, {"offset": 0.4167, "color": "#7f7978"},
                {"offset": 0.4405, "color": "#7f7978"}, {"offset": 0.4405, "color": "rgba(127,121,120,0)"}, {"offset": 0.4643, "color": "rgba(127,121,120,0)"}, {"offset": 0.4643, "color": "#7f7978"},
                {"offset": 0.4881, "color": "#7f7978"}, {"offset": 0.4881, "color": "rgba(127,121,120,0)"}, {"offset": 0.5119, "color": "rgba(127,121,120,0)"}, {"offset": 0.5119, "color": "#7f7978"},
                {"offset": 0.5357, "color": "#7f7978"}, {"offset": 0.5357, "color": "rgba(127,121,120,0)"}, {"offset": 0.5595, "color": "rgba(127,121,120,0)"}, {"offset": 0.5595, "color": "#7f7978"},
                {"offset": 0.5833, "color": "#7f7978"}, {"offset": 0.5833, "color": "rgba(127,121,120,0)"}, {"offset": 0.6071, "color": "rgba(127,121,120,0)"}, {"offset": 0.6071, "color": "#7f7978"},
                {"offset": 0.631, "color": "#7f7978"}, {"offset": 0.631, "color": "rgba(127,121,120,0)"}, {"offset": 0.6548, "color": "rgba(127,121,120,0)"}, {"offset": 0.6548, "color": "#7f7978"},
                {"offset": 0.6786, "color": "#7f7978"}, {"offset": 0.6786, "color": "rgba(127,121,120,0)"}, {"offset": 0.7024, "color": "rgba(127,121,120,0)"}, {"offset": 0.7024, "color": "#7f7978"},
                {"offset": 0.7262, "color": "#7f7978"}, {"offset": 0.7262, "color": "rgba(127,121,120,0)"}, {"offset": 0.75, "color": "rgba(127,121,120,0)"}, {"offset": 0.75, "color": "#7f7978"},
                {"offset": 0.7738, "color": "#7f7978"}, {"offset": 0.7738, "color": "rgba(127,121,120,0)"}, {"offset": 0.7976, "color": "rgba(127,121,120,0)"}, {"offset": 0.7976, "color": "#7f7978"},
                {"offset": 0.8214, "color": "#7f7978"}, {"offset": 0.8214, "color": "rgba(127,121,120,0)"}, {"offset": 0.8452, "color": "rgba(127,121,120,0)"}, {"offset": 0.8452, "color": "#7f7978"},
                {"offset": 0.869, "color": "#7f7978"}, {"offset": 0.869, "color": "rgba(127,121,120,0)"}, {"offset": 0.8929, "color": "rgba(127,121,120,0)"}, {"offset": 0.8929, "color": "#7f7978"},
                {"offset": 0.9167, "color": "#7f7978"}, {"offset": 0.9167, "color": "rgba(127,121,120,0)"}, {"offset": 0.9405, "color": "rgba(127,121,120,0)"}, {"offset": 0.9405, "color": "#7f7978"},
                {"offset": 0.9643, "color": "#7f7978"}, {"offset": 0.9643, "color": "rgba(127,121,120,0)"}, {"offset": 0.9881, "color": "rgba(127,121,120,0)"}, {"offset": 0.9881, "color": "#7f7978"},
                {"offset": 1, "color": "#7f7978"}]}},
              "encoding": {
                "y": {"field": "q1", "type": "quantitative", "title": "Total frequency of pecks", "scale": {"domain": [-33.5, 724.5], "nice": false, "zero": false}},
                "y2": {"field": "q3"}
              }
            },
            {
              "data": {"name": "boxes"},
              "transform": [{"filter": "datum.panel == 'b'"}],
              "mark": {"type": "bar", "fillOpacity": 0, "stroke": "#3b3b3b", "strokeWidth": 1.6},
              "encoding": {
                "y": {"field": "q1", "type": "quantitative", "title": "Total frequency of pecks", "scale": {"domain": [-33.5, 724.5], "nice": false, "zero": false}},
                "y2": {"field": "q3"}
              }
            },
            {
              "data": {"name": "boxes"},
              "transform": [{"filter": "datum.panel == 'b'"}],
              "mark": {"type": "bar", "fillOpacity": 0, "stroke": "#2a2a2a", "strokeWidth": 3.5},
              "encoding": {
                "y": {"field": "med", "type": "quantitative", "title": "Total frequency of pecks", "scale": {"domain": [-33.5, 724.5], "nice": false, "zero": false}},
                "y2": {"field": "med"}
              }
            },
            {
              "data": {"name": "pts"},
              "transform": [{"filter": "datum.panel == 'b' && datum.sex == 'Female'"}],
              "mark": {"type": "point", "filled": true, "opacity": 0.9, "strokeWidth": 0, "xOffset": -13.5, "size": 144},
              "encoding": {
                "y": {"field": "value", "type": "quantitative", "title": "Total frequency of pecks", "scale": {"domain": [-33.5, 724.5], "nice": false, "zero": false}},
                "color": {"field": "sex", "type": "nominal", "scale": {"domain": ["Male", "Female"], "range": ["#41bde6", "#da3d3e"]}, "legend": {"title": "Sex", "orient": "none", "legendX": 1000, "legendY": 190}},
                "shape": {"field": "sex", "type": "nominal", "scale": {"domain": ["Male", "Female"], "range": ["triangle-up", "circle"]}, "legend": {"title": "Sex", "orient": "none", "legendX": 1000, "legendY": 190}}
              }
            },
            {
              "data": {"name": "pts"},
              "transform": [{"filter": "datum.panel == 'b' && datum.sex == 'Male'"}],
              "mark": {"type": "point", "filled": true, "opacity": 0.9, "strokeWidth": 0, "xOffset": 13.5, "size": 289},
              "encoding": {
                "y": {"field": "value", "type": "quantitative", "title": "Total frequency of pecks", "scale": {"domain": [-33.5, 724.5], "nice": false, "zero": false}},
                "color": {"field": "sex", "type": "nominal", "scale": {"domain": ["Male", "Female"], "range": ["#41bde6", "#da3d3e"]}, "legend": {"title": "Sex", "orient": "none", "legendX": 1000, "legendY": 190}},
                "shape": {"field": "sex", "type": "nominal", "scale": {"domain": ["Male", "Female"], "range": ["triangle-up", "circle"]}, "legend": {"title": "Sex", "orient": "none", "legendX": 1000, "legendY": 190}}
              }
            }
          ]
        },
        {
          "data": {"name": "boxes"},
          "transform": [{"filter": "datum.panel == 'b'"}],
          "mark": {"type": "point", "opacity": 0},
          "encoding": {
            "x": {"field": "cond", "type": "nominal", "scale": {"type": "point", "padding": 0.555, "domain": ["Food-deprived", "Food-supplied"]},
              "axis": {"orient": "bottom", "title": null, "domain": false, "ticks": false, "tickSize": 0, "labelFontSize": 19, "labelFontWeight": "bold", "labelPadding": 37}}
          }
        },
        {
          "data": {"name": "boxes"},
          "transform": [{"filter": "datum.panel == 'b'"}],
          "mark": {"type": "point", "opacity": 0},
          "encoding": {
            "x": {"field": "day", "type": "nominal", "scale": {"type": "point", "padding": 0.555, "domain": ["(Day 1)", "(Day 2)"]},
              "axis": {"orient": "bottom", "title": null, "domain": false, "ticks": false, "tickSize": 0, "labelFontSize": 19, "labelFontWeight": "normal", "labelPadding": 62}}
          }
        }
      ]
    }
  ]
}
